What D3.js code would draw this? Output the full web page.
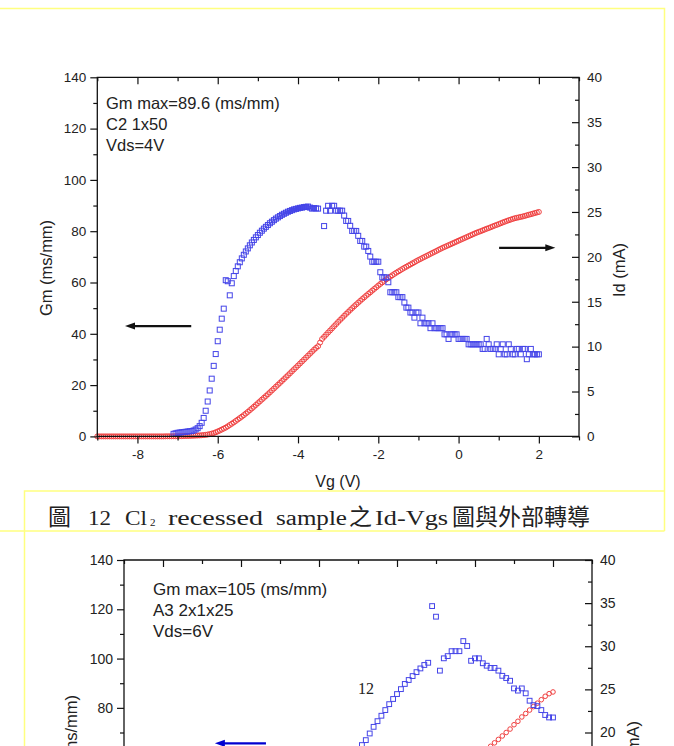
<!DOCTYPE html>
<html>
<head>
<meta charset="utf-8">
<script src="https://cdn.jsdelivr.net/npm/d3@7"></script>
<style>
body { margin: 0; background: #fff; }
svg { display: block; }
text { font-family: 'Liberation Sans', Arial, sans-serif; fill: #222; }
</style>
</head>
<body>
<svg id="pic" width="674" height="746"></svg>
<script>
// ---- data: top chart (Vg sweep -9 .. 2 V, 0.05 V step) ----
var vgStart = -9, vgStep = 0.05;

// Id (mA), one line per volt
var idTop = [
  0,0,0,0,0,0,0,0,0,0,0,0,0,0,0,0,0,0,0,0,
  0,0,0,0,0,0,0,0,0,0,0,0,0,0,0.01,0.01,0.01,0.01,0.02,0.02,
  0.02,0.03,0.03,0.04,0.05,0.05,0.06,0.07,0.08,0.09,0.10,0.11,0.13,0.15,0.17,0.21,0.25,0.31,0.37,0.46,
  0.55,0.65,0.76,0.87,0.98,1.12,1.27,1.41,1.56,1.72,1.88,2.04,2.20,2.37,2.55,2.73,2.92,3.11,3.30,3.50,
  3.70,3.90,4.10,4.30,4.50,4.70,4.91,5.12,5.33,5.54,5.75,5.96,6.17,6.38,6.60,6.81,7.03,7.25,7.47,7.68,
  7.90,8.12,8.34,8.56,8.78,9.00,9.22,9.44,9.66,9.86,10.05,10.45,10.85,11.09,11.33,11.57,11.80,12.04,12.28,12.51,
  12.75,12.98,13.20,13.43,13.65,13.86,14.08,14.29,14.50,14.70,14.90,15.10,15.30,15.49,15.68,15.87,16.05,16.24,16.43,16.61,
  16.80,16.98,17.15,17.33,17.50,17.65,17.80,17.95,18.10,18.24,18.38,18.51,18.65,18.78,18.90,19.03,19.15,19.28,19.40,19.53,
  19.65,19.76,19.88,19.99,20.10,20.21,20.33,20.44,20.55,20.66,20.78,20.89,21.00,21.10,21.20,21.30,21.40,21.50,21.60,21.70,
  21.80,21.90,22.00,22.10,22.20,22.30,22.40,22.50,22.60,22.69,22.78,22.86,22.95,23.04,23.13,23.21,23.30,23.39,23.48,23.56,
  23.65,23.74,23.83,23.91,24.00,24.08,24.15,24.23,24.30,24.35,24.40,24.45,24.50,24.56,24.63,24.69,24.75,24.81,24.88,24.94,
  25.00
];

// Gm (ms/mm), null where no point is drawn
var gmTop = [
  null,null,null,null,null,null,null,null,null,null,null,null,null,null,null,null,null,null,null,null,
  null,null,null,null,null,null,null,null,null,null,null,null,null,null,null,null,null,null,1.0,1.2,
  1.4,1.5,1.6,1.7,1.8,1.9,2.0,2.1,2.3,2.7,3.2,4.0,5.3,7.2,10.0,13.6,17.9,22.5,27.5,32.1,
  37.1,41.6,45.9,49.8,60.9,60.5,55.0,59.7,62.5,64.5,66.3,67.9,69.4,70.8,72.1,73.3,74.5,75.6,76.6,77.6,
  78.5,79.4,80.2,81.0,81.7,82.4,83.1,83.7,84.3,84.9,85.4,85.9,86.4,86.8,87.2,87.6,87.9,88.2,88.5,88.7,
  88.9,89.1,89.2,89.4,89.5,89.6,89.2,88.8,89.0,88.9,88.8,null,null,82.0,88.0,89.9,88.0,89.9,89.9,88.0,
  88.0,88.0,88.0,86.1,84.0,84.0,82.1,80.1,80.1,80.1,78.2,76.2,76.2,74.0,74.0,72.3,70.1,68.1,68.1,68.1,
  68.1,64.0,62.0,62.0,62.0,60.1,56.2,56.2,56.2,56.2,54.3,54.3,54.3,52.2,50.2,50.2,48.3,48.3,46.3,48.3,
  48.3,44.1,46.3,44.1,44.1,44.1,42.2,44.1,42.2,42.2,42.2,42.2,42.2,39.8,39.8,38.0,39.8,39.8,39.8,39.8,
  38.0,38.0,38.0,38.0,38.0,35.9,35.9,35.9,35.9,35.9,35.9,35.9,34.1,34.1,38.0,35.9,34.1,34.1,34.1,35.9,
  32.0,34.1,35.9,32.0,32.0,35.9,34.1,32.0,32.0,34.1,34.1,32.0,34.1,34.1,30.1,32.0,34.1,32.0,32.0,32.0,
  32.0
];

var vgTicks = [-8, -6, -4, -2, 0, 2];
var vgMinor = [-9, -7, -5, -3, -1, 1, 3];
var gmTicks = [0, 20, 40, 60, 80, 100, 120, 140];
var gmMinor = [10, 30, 50, 70, 90, 110, 130];
var idTicks = [0, 5, 10, 15, 20, 25, 30, 35, 40];
var idMinor = [2.5, 7.5, 12.5, 17.5, 22.5, 27.5, 32.5, 37.5];
var noteTop = ["Gm max=89.6 (ms/mm)", "C2 1x50", "Vds=4V"];

// ---- data: second chart (only its upper part is on the page) ----
var vg2Gm = [-2.9,-2.8,-2.7,-2.6,-2.5,-2.4,-2.3,-2.2,-2.1,-2.0,-1.9,-1.8,-1.7,-1.6,-1.5,-1.4,-1.3,-1.2,-1.1,-1.0,
  -0.9,-0.8,-0.7,-0.6,-0.5,-0.4,-0.3,-0.2,-0.1,0.0,0.1,0.2,0.3,0.4,0.5,0.6,0.7,0.8,0.9,1.0,
  1.1,1.2,1.3,1.4,1.5,1.6,1.7,1.8,1.9,2.0];
var gm2 = [64.9,66.9,69.6,72.3,74.6,76.8,79.1,81.5,83.6,85.6,87.6,89.7,91.3,92.9,94.5,96.0,97.4,98.3,121.3,117.0,
  95.1,100.1,101.0,103.0,103.0,103.0,107.1,105.1,99.1,100.1,100.1,98.1,97.1,96.2,96.2,95.1,93.0,92.1,91.0,87.9,
  87.0,87.9,85.9,82.9,81.1,80.7,79.1,77.1,76.1,76.1];
var vg2Id = [0.4,0.5,0.6,0.7,0.8,0.9,1.0,1.1,1.2,1.3,1.4,1.5,1.6,1.7,1.8,1.9,2.0];
var id2 = [18.4,18.8,19.2,19.6,20.0,20.4,20.9,21.3,21.8,22.2,22.6,23.0,23.4,23.8,24.2,24.5,24.7];
var noteBottom = ["Gm max=105 (ms/mm)", "A3 2x1x25", "Vds=6V"];

// caption pieces: [text, kind, x start, width]
var captionParts = [
  ["圖", "cjk", 48, 24],
  ["12", "lat", 88, 23],
  ["Cl", "lat", 125, 22],
  ["2", "sub", 150, 6],
  ["recessed", "lat", 168, 95],
  ["sample", "lat", 276, 71],
  ["之", "cjk", 349, 24],
  ["Id-Vgs", "lat", 375, 73],
  ["圖與外部轉導", "cjk", 452, 144]
];

var blue = "#4444e8", red = "#f04040", yellow = "#ffff80";
var plain = function(d) { return String(d); };

var svg = d3.select("#pic");

// yellow frame lines of the document
svg.append("path").attr("d", "M0,8.5H664.5V531M24.5,746V491H664.5M0,531H664.5")
  .attr("fill", "none").attr("stroke", yellow).attr("stroke-width", 1.5);

// caption
svg.append("g").selectAll("text")
  .data(captionParts).enter().append("text")
  .attr("x", function(d) { return d[2]; })
  .attr("y", function(d) { return d[1] === "sub" ? 526 : 525; })
  .attr("textLength", function(d) { return d[1] === "lat" ? d[3] : null; })
  .attr("lengthAdjust", "spacingAndGlyphs")
  .style("font-family", function(d) { return d[1] === "cjk" ? "'Noto Sans CJK TC'" : "'Liberation Serif', serif"; })
  .style("font-size", function(d) { return d[1] === "cjk" ? "23px" : d[1] === "sub" ? "11px" : "20px"; })
  .attr("fill", "#111")
  .text(function(d) { return d[0]; });

// draws a double-Y frame chart
function drawFrame(g, x, yL, yR, opt) {
  var x0 = x.range()[0], x1 = x.range()[1], y0 = yL.range()[0], y1 = yL.range()[1];
  var onPage = function(s) { return function(v) { return s(v) < 744; }; };

  g.append("g").attr("transform", "translate(0," + y1 + ")")
    .call(d3.axisTop(x).tickValues(opt.xMinor).tickSize(-4).tickFormat("").tickSizeOuter(0));
  g.append("g").attr("transform", "translate(0," + y1 + ")")
    .call(d3.axisTop(x).tickValues(opt.xTicks).tickSize(-7).tickFormat("").tickSizeOuter(0));

  if (opt.xLabels) {
    g.append("g").attr("transform", "translate(0," + y0 + ")")
      .call(d3.axisBottom(x).tickValues(opt.xMinor).tickSize(4).tickFormat("").tickSizeOuter(0));
    g.append("g").attr("transform", "translate(0," + y0 + ")")
      .call(d3.axisBottom(x).tickValues(opt.xTicks).tickSize(7).tickSizeOuter(0).tickPadding(6).tickFormat(plain));
  }

  g.append("g").attr("transform", "translate(" + x0 + ",0)")
    .call(d3.axisLeft(yL).tickValues(opt.yMinor.filter(onPage(yL))).tickSize(4).tickFormat("").tickSizeOuter(0));
  g.append("g").attr("transform", "translate(" + x0 + ",0)")
    .call(d3.axisLeft(yL).tickValues(opt.yTicks.filter(onPage(yL))).tickSize(7).tickSizeOuter(0).tickPadding(4).tickFormat(plain));

  g.append("g").attr("transform", "translate(" + x1 + ",0)")
    .call(d3.axisRight(yR).tickValues(opt.rMinor.filter(onPage(yR))).tickSize(-4).tickFormat("").tickSizeOuter(0));
  g.append("g").attr("transform", "translate(" + x1 + ",0)")
    .call(d3.axisRight(yR).tickValues(opt.rTicks.filter(onPage(yR))).tickSize(-7).tickSizeOuter(0).tickPadding(8).tickFormat(plain));

  // axis lines along the full frame (also past the page edge)
  g.append("path").attr("d", "M" + x0 + "," + y0 + "V" + y1 + "H" + x1 + "V" + y0 + (opt.xLabels ? "Z" : ""))
    .attr("fill", "none").attr("stroke", "#111").attr("stroke-width", 1.3);

  g.selectAll(".domain").remove();
  g.selectAll(".tick line").attr("stroke", "#111").attr("stroke-width", 1.2);
  g.selectAll(".tick text").style("font-family", "'Liberation Sans', Arial, sans-serif")
    .style("font-size", opt.fs + "px").attr("fill", "#222");
}

function drawArrow(g, xa, ya, xb, color) {
  // shaft from xa to the tip at xb
  var dir = xb > xa ? 1 : -1;
  g.append("line").attr("x1", xa).attr("y1", ya).attr("x2", xb - dir * 8).attr("y2", ya)
    .attr("stroke", color).attr("stroke-width", 2.2);
  g.append("path")
    .attr("d", "M" + xb + "," + ya + "L" + (xb - dir * 10) + "," + (ya - 3.5) + "L" + (xb - dir * 10) + "," + (ya + 3.5) + "Z")
    .attr("fill", color);
}

// ---------------- top chart ----------------
var x = d3.scaleLinear().domain([-9, 3]).range([97.3, 579]);
var yGm = d3.scaleLinear().domain([0, 140]).range([436.4, 77.3]);
var yId = d3.scaleLinear().domain([0, 40]).range([436.4, 77.3]);

var topG = svg.append("g");

var pts = idTop.map(function(v, i) {
  return { vg: vgStart + i * vgStep, id: v, gm: gmTop[i] };
});

// Id: red open circles
topG.append("g").selectAll("circle")
  .data(pts).enter().append("circle")
  .attr("cx", function(d) { return x(d.vg); })
  .attr("cy", function(d) { return yId(d.id); })
  .attr("r", 2.5)
  .attr("fill", "none").attr("stroke", red).attr("stroke-width", 1);

// Gm: blue open squares
topG.append("g").selectAll("rect")
  .data(pts.filter(function(d) { return d.gm !== null; })).enter().append("rect")
  .attr("x", function(d) { return x(d.vg) - 2.5; })
  .attr("y", function(d) { return yGm(d.gm) - 2.5; })
  .attr("width", 5).attr("height", 5)
  .attr("fill", "none").attr("stroke", blue).attr("stroke-width", 1);

drawFrame(topG, x, yGm, yId, {
  xTicks: vgTicks, xMinor: vgMinor, yTicks: gmTicks, yMinor: gmMinor,
  rTicks: idTicks, rMinor: idMinor, xLabels: true, fs: 13.5
});

topG.append("text").attr("x", 338).attr("y", 487).attr("text-anchor", "middle")
  .style("font-size", "16px").text("Vg (V)");
topG.append("text").attr("transform", "translate(52,268) rotate(-90)").attr("text-anchor", "middle")
  .style("font-size", "16.5px").text("Gm (ms/mm)");
topG.append("text").attr("transform", "translate(625,270) rotate(-90)").attr("text-anchor", "middle")
  .style("font-size", "16.5px").text("Id (mA)");

topG.selectAll(".note").data(noteTop).enter().append("text")
  .attr("x", 106).attr("y", function(d, i) { return 108.5 + i * 21; })
  .style("font-size", "16.5px").text(function(d) { return d; });

drawArrow(topG, x(-6.66), yGm(43), x(-8.31), "#111");
drawArrow(topG, x(1.01), yId(21), x(2.41), "#111");

// ---------------- second chart (cut by the page edge) ----------------
var x2 = d3.scaleLinear().domain([-9, 3]).range([124, 592]);
var y2Gm = d3.scaleLinear().domain([0, 140]).range([905, 560]);
var y2Id = d3.scaleLinear().domain([0, 40]).range([905, 560]);

var botG = svg.append("g");

botG.append("g").selectAll("circle")
  .data(id2).enter().append("circle")
  .attr("cx", function(d, i) { return x2(vg2Id[i]); })
  .attr("cy", function(d) { return y2Id(d); })
  .attr("r", 2.3)
  .attr("fill", "none").attr("stroke", red).attr("stroke-width", 1);

botG.append("g").selectAll("rect")
  .data(gm2).enter().append("rect")
  .attr("x", function(d, i) { return x2(vg2Gm[i]) - 2.4; })
  .attr("y", function(d) { return y2Gm(d) - 2.4; })
  .attr("width", 4.8).attr("height", 4.8)
  .attr("fill", "none").attr("stroke", blue).attr("stroke-width", 1);

drawFrame(botG, x2, y2Gm, y2Id, {
  xTicks: vgTicks, xMinor: vgMinor, yTicks: gmTicks, yMinor: gmMinor,
  rTicks: idTicks, rMinor: idMinor, xLabels: false, fs: 14
});

botG.selectAll(".note").data(noteBottom).enter().append("text")
  .attr("x", 153).attr("y", function(d, i) { return 595 + i * 21; })
  .style("font-size", "17px").text(function(d) { return d; });

botG.append("text").attr("x", 358).attr("y", 694)
  .style("font-family", "'Liberation Serif', serif").style("font-size", "16px").text("12");

botG.append("text").attr("transform", "translate(77,695) rotate(-90)").attr("text-anchor", "end")
  .style("font-size", "16.5px").text("Gm (ms/mm)");
botG.append("text").attr("transform", "translate(639,721) rotate(-90)").attr("text-anchor", "end")
  .style("font-size", "16.5px").text("Id (mA)");

drawArrow(botG, x2(-5.36), y2Gm(65.6), x2(-6.67), "#0000d0");
</script>
</body>
</html>
